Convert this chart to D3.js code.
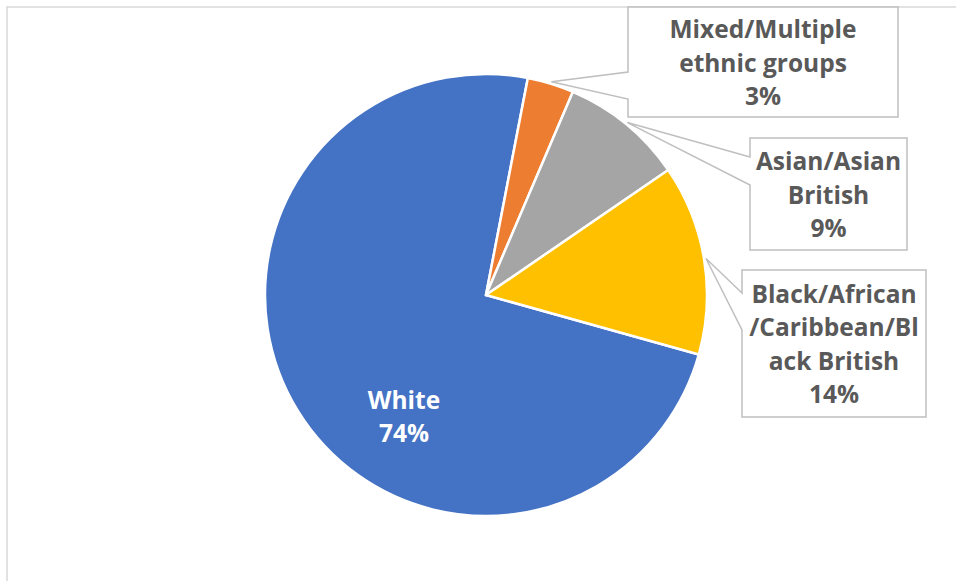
<!DOCTYPE html>
<html>
<head>
<meta charset="utf-8">
<script src="https://cdn.jsdelivr.net/npm/d3@7"></script>
<style>
  body { margin: 0; background: #fff; }
  svg text { font-family: "Open Sans", Lato, sans-serif; font-weight: 700; }
</style>
</head>
<body>
<script>
// ethnic group shares (percent), in drawing order from the first slice
var groups = ["White", "Mixed/Multiple ethnic groups", "Asian/Asian British", "Black/African/Caribbean/Black British"];
var shares = [73.7, 3.4, 9.0, 13.9];
var colours = ["#4472C4", "#ED7D31", "#A5A5A5", "#FFC000"];
// label text lines as wrapped in the chart
var labelLines = [
  ["White"],
  ["Mixed/Multiple", "ethnic groups"],
  ["Asian/Asian", "British"],
  ["Black/African", "/Caribbean/Bl", "ack British"]
];

var width = 956, height = 581;
var cx = 486, cy = 295, radius = 221;

var svg = d3.select("body").append("svg")
    .attr("width", width)
    .attr("height", height);

// chart area border
svg.append("rect")
    .attr("x", 7).attr("y", 7)
    .attr("width", 1000).attr("height", 700)
    .attr("fill", "#fff")
    .attr("stroke", "#d9d9d9")
    .attr("stroke-width", 1.5);

var data = groups.map(function(g, i){ return {name: g, value: shares[i], lines: labelLines[i], colour: colours[i]}; });

var start = 105.6 * Math.PI / 180;
var pie = d3.pie()
    .sort(null)
    .value(function(d){ return d.value; })
    .startAngle(start)
    .endAngle(start + 2 * Math.PI);

var arc = d3.arc().innerRadius(0).outerRadius(radius);
var anchorArc = d3.arc().innerRadius(radius + 2).outerRadius(radius + 2);

var arcs = pie(data);

var g = svg.append("g").attr("transform", "translate(" + cx + "," + cy + ")");

g.selectAll("path.slice")
  .data(arcs)
  .enter()
  .append("path")
    .attr("class", "slice")
    .attr("d", arc)
    .attr("fill", function(d){ return d.data.colour; })
    .attr("stroke", "#fff")
    .attr("stroke-width", 2.5)
    .attr("stroke-linejoin", "round");

// callout boxes (page coords) for the three small slices
var boxes = {
  "Mixed/Multiple ethnic groups": {x0: 628, y0: 7, x1: 898, y1: 117, wt: 72, wb: 99},
  "Asian/Asian British": {x0: 750, y0: 138, x1: 907, y1: 250, wt: 157, wb: 185},
  "Black/African/Caribbean/Black British": {x0: 742, y0: 270, x1: 926, y1: 417, wt: 293, wb: 330}
};

var lineH = 33.5, fontSize = 24.5;

arcs.forEach(function(d){
  var lines = d.data.lines.concat([Math.round(d.data.value) + "%"]);
  var b = boxes[d.data.name];
  if (b) {
    var a = anchorArc.centroid(d);
    var ax = cx + a[0], ay = cy + a[1];
    var p = d3.path();
    p.moveTo(b.x0, b.y0);
    p.lineTo(b.x1, b.y0);
    p.lineTo(b.x1, b.y1);
    p.lineTo(b.x0, b.y1);
    p.lineTo(b.x0, b.wb);
    p.lineTo(ax, ay);
    p.lineTo(b.x0, b.wt);
    p.closePath();
    svg.append("path")
        .attr("d", p.toString())
        .attr("fill", "#fff")
        .attr("stroke", "#bfbfbf")
        .attr("stroke-width", 1.5)
        .attr("stroke-linejoin", "miter");
    var mx = (b.x0 + b.x1) / 2, my = (b.y0 + b.y1) / 2;
    var t = svg.append("text")
        .attr("text-anchor", "middle")
        .attr("font-size", fontSize)
        .attr("fill", "#595959");
    lines.forEach(function(s, i){
      t.append("tspan")
          .attr("x", mx)
          .attr("y", my + 9.5 + (i - (lines.length - 1) / 2) * lineH)
          .text(s);
    });
  } else {
    // label inside the big slice
    var lx = 404, ly = 416;
    var t2 = svg.append("text")
        .attr("text-anchor", "middle")
        .attr("font-size", fontSize)
        .attr("fill", "#fff");
    lines.forEach(function(s, i){
      t2.append("tspan")
          .attr("x", lx)
          .attr("y", ly + 9.5 + (i - (lines.length - 1) / 2) * lineH)
          .text(s);
    });
  }
});
</script>
</body>
</html>
